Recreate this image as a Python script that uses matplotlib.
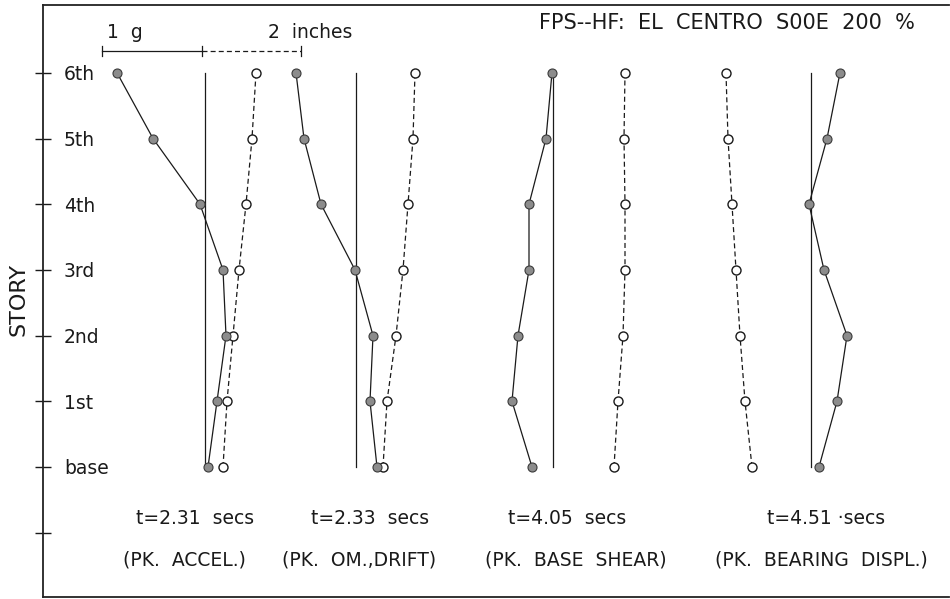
import numpy as np
import matplotlib
matplotlib.use('Agg')
import matplotlib.pyplot as plt

#%% values (x in plot units, one per story level base..6th)
stories = ['base', '1st', '2nd', '3rd', '4th', '5th', '6th']
levels = np.arange(len(stories))

# PK. ACCEL.
accel_ref = 205
accel_solid = [208, 217, 226, 223, 200, 153, 117]
accel_dash = [223, 227, 233, 239, 246, 252, 256]
# PK. OM.,DRIFT
drift_ref = 356
drift_solid = [377, 370, 373, 355, 321, 304, 296]
drift_dash = [383, 387, 396, 403, 408, 413, 415]
# PK. BASE SHEAR
shear_ref = 553
shear_solid = [532, 512, 518, 529, 529, 546, 552]
shear_dash = [614, 618, 623, 625, 625, 624, 625]
# PK. BEARING DISPL.
bear_ref = 811
bear_solid = [819, 837, 847, 824, 809, 827, 840]
bear_dash = [752, 745, 740, 736, 732, 728, 726]

times = ['t=2.31  secs', 't=2.33  secs', 't=4.05  secs', 't=4.51 \u00b7secs']
captions = ['(PK.  ACCEL.)', '(PK.  OM.,DRIFT)', '(PK.  BASE  SHEAR)', '(PK.  BEARING  DISPL.)']

# scale bar: 1 g and 2 inches
bar_x = [102, 202, 301]

#%% figure
W, H = 950, 599
fig = plt.figure(figsize=(W / 100, H / 100), dpi=100)
fig.patch.set_facecolor('white')
ax = fig.add_axes([43 / W, 2 / H, (W - 44) / W, 592 / H])

dy = 65.7
ax.set_xlim(43, W - 1)
ax.set_ylim((467 - 597) / dy, (467 - 5) / dy)

ink = '#1a1a1a'
solid_kw = dict(color=ink, lw=0.9, marker='o', ms=6.5, mfc='#8c8c8c', mec='#3a3a3a', mew=0.8)
dash_kw = dict(color=ink, lw=0.9, ls=(0, (4, 2.5)), marker='o', ms=6.5, mfc='white', mec=ink, mew=1.0)

for ref, sol, das in [(accel_ref, accel_solid, accel_dash),
                      (drift_ref, drift_solid, drift_dash),
                      (shear_ref, shear_solid, shear_dash),
                      (bear_ref, bear_solid, bear_dash)]:
    ax.plot([ref, ref], [levels[0], levels[-1]], color=ink, lw=0.9)
    ax.plot(das, levels, **dash_kw)
    ax.plot(sol, levels, **solid_kw)

# scale bar
yb = (467 - 51) / dy
ax.plot(bar_x[:2], [yb, yb], color=ink, lw=0.9)
ax.plot(bar_x[1:], [yb, yb], color=ink, lw=0.9, ls=(0, (4, 2.5)))
for xb in bar_x:
    ax.plot([xb, xb], [yb - 0.07, yb + 0.07], color=ink, lw=0.9)

# axes frame and ticks
for s in ['left', 'top', 'bottom']:
    ax.spines[s].set_linewidth(1.3)
    ax.spines[s].set_color('#222222')
ax.spines['right'].set_visible(False)
ax.set_xticks([])
ax.set_yticks(np.arange(-1, 7))
ax.set_yticklabels([''] + stories, fontsize=13.5, color=ink)
ax.tick_params(axis='y', direction='inout', length=12, width=1, pad=-21, colors=ink)
for lab in ax.get_yticklabels():
    lab.set_horizontalalignment('left')

fig.text(18 / W, 1 - 299 / H, 'STORY', rotation=90, fontsize=16, color=ink,
         ha='center', va='center')

def px_text(x, y, s, size, **kw):
    fig.text(x / W, 1 - y / H, s, fontsize=size, color=ink, va='center', **kw)

px_text(727, 23, 'FPS--HF:  EL  CENTRO  S00E  200  %', 15, ha='center')
px_text(107, 32, '1  g', 13.5, ha='left')
px_text(268, 32, '2  inches', 13.5, ha='left')

for x, s in zip([195, 370, 567, 826], times):
    px_text(x, 518, s, 13.5, ha='center')
for x, s in zip([184, 359, 576, 821], captions):
    px_text(x, 560, s, 13.5, ha='center')

plt.savefig('out.png', dpi=100)
